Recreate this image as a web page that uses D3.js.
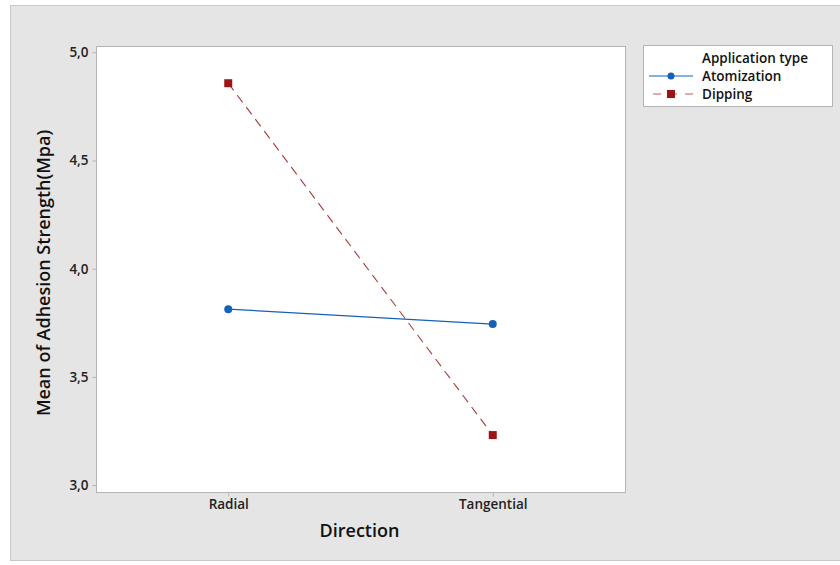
<!DOCTYPE html>
<html><head><meta charset="utf-8">
<script src="https://cdn.jsdelivr.net/npm/d3@7"></script>
<style>body{margin:0;background:#fff;} text{font-family:"Open Sans","Noto Sans",sans-serif;}</style>
</head><body>
<svg id="c" width="840" height="565"></svg>
<script>
const categories = ["Radial", "Tangential"];
const seriesNames = ["Atomization", "Dipping"];
const atomization = [3.813, 3.744];
const dipping = [4.857, 3.231];
const yTicks = [3.0, 3.5, 4.0, 4.5, 5.0];
const legendTitle = "Application type";
const xTitle = "Direction";
const yTitle = "Mean of Adhesion Strength(Mpa)";

const svg = d3.select("#c");
// outer frame
svg.append("rect").attr("x", 10.5).attr("y", 5.5).attr("width", 840).attr("height", 555)
  .attr("fill", "#e5e5e5").attr("stroke", "#c8c8c8");

const L = 96, R = 625, T = 46, B = 492;
const x = d3.scalePoint().domain(categories).range([L, R]).padding(0.5);
const y = d3.scaleLinear().domain([2.968, 5.029]).range([B, T]);

svg.append("rect").attr("x", L + 0.5).attr("y", T + 0.5).attr("width", R - L).attr("height", B - T)
  .attr("fill", "#fff").attr("stroke", "#b4b4b4");

const fmt = d => d.toFixed(1).replace(".", ",");
const yAxis = svg.append("g").attr("transform", `translate(${L + 0.5},0)`)
  .call(d3.axisLeft(y).tickValues(yTicks).tickFormat(fmt).tickSize(4).tickPadding(4));
yAxis.select(".domain").remove();
yAxis.selectAll("line").attr("stroke", "#b4b4b4");
yAxis.selectAll("text").attr("font-size", 13.5).attr("font-weight", 600).attr("fill", "#222");

const xAxis = svg.append("g").attr("transform", `translate(0,${B + 0.5})`)
  .call(d3.axisBottom(x).tickSize(4).tickPadding(3));
xAxis.select(".domain").remove();
xAxis.selectAll("line").attr("stroke", "#b4b4b4");
xAxis.selectAll("text").attr("font-size", 13.5).attr("font-weight", 600).attr("fill", "#222");

svg.append("text").attr("x", (L + R) / 2 - 1).attr("y", 537).attr("text-anchor", "middle")
  .attr("font-size", 18).attr("font-weight", 600).attr("fill", "#111").text(xTitle);
svg.append("text").attr("transform", `translate(50,${(T + B) / 2 + 4}) rotate(-90)`).attr("text-anchor", "middle")
  .attr("font-size", 18).attr("font-weight", 600).attr("fill", "#111").text(yTitle);

const blue = "#1560b8", red = "#9b1516";
const line = d3.line().x((d, i) => x(categories[i])).y(d => y(d));
svg.append("path").attr("d", line(atomization)).attr("fill", "none").attr("stroke", blue).attr("stroke-width", 1.2);
svg.append("path").attr("d", line(dipping)).attr("fill", "none").attr("stroke", red).attr("stroke-width", 1.1)
  .attr("stroke-dasharray", "9,6").attr("stroke-opacity", 0.85);
svg.selectAll(".pa").data(atomization).join("circle")
  .attr("cx", (d, i) => x(categories[i])).attr("cy", d => y(d)).attr("r", 4).attr("fill", blue);
svg.selectAll(".pd").data(dipping).join("rect")
  .attr("x", (d, i) => x(categories[i]) - 4).attr("y", d => y(d) - 4).attr("width", 8).attr("height", 8).attr("fill", red);

// legend
const lg = svg.append("g");
lg.append("rect").attr("x", 643.5).attr("y", 45.5).attr("width", 189).attr("height", 61)
  .attr("fill", "#fff").attr("stroke", "#b4b4b4");
lg.append("text").attr("x", 702).attr("y", 63).attr("font-size", 13.5).attr("font-weight", 600).attr("fill", "#111").text(legendTitle);
const ly = [76, 94];
lg.append("line").attr("x1", 649).attr("x2", 693).attr("y1", ly[0]).attr("y2", ly[0]).attr("stroke", blue).attr("stroke-width", 1.2);
lg.append("circle").attr("cx", 671).attr("cy", ly[0]).attr("r", 3.5).attr("fill", blue);
lg.append("line").attr("x1", 653).attr("x2", 693).attr("y1", ly[1]).attr("y2", ly[1]).attr("stroke", red).attr("stroke-width", 1.1)
  .attr("stroke-dasharray", "8,8").attr("stroke-opacity", 0.7);
lg.append("rect").attr("x", 667).attr("y", ly[1] - 4).attr("width", 8).attr("height", 8).attr("fill", red);
seriesNames.forEach((s, i) => {
  lg.append("text").attr("x", 702).attr("y", ly[i] + 5).attr("font-size", 13.5).attr("font-weight", 600).attr("fill", "#111").text(s);
});
</script>
</body></html>
